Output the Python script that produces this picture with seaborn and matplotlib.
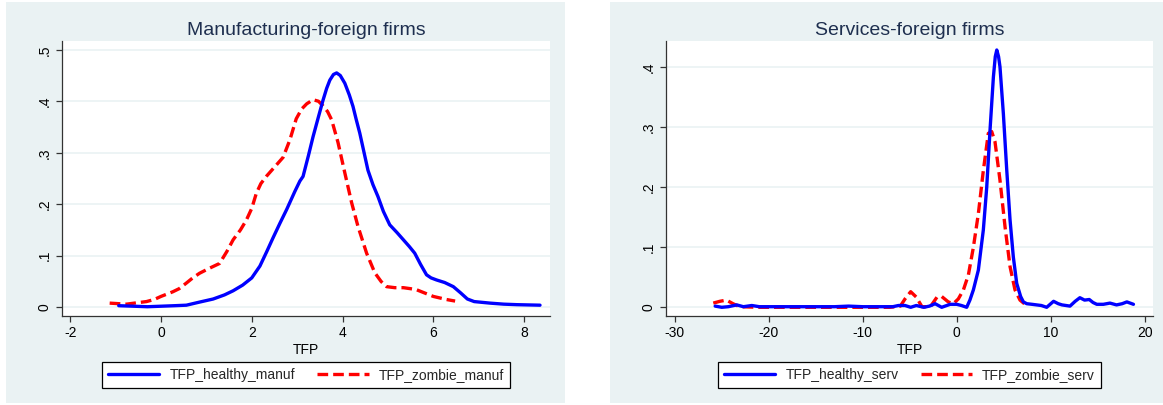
import matplotlib
matplotlib.use("Agg")
import matplotlib.pyplot as plt
from matplotlib.patches import Rectangle
from matplotlib.lines import Line2D
import seaborn as sns

# ---- kernel density estimates of TFP (read as x / density pairs) ----
manuf_healthy_x = [-0.93, -0.6, -0.3, 0.0, 0.3, 0.56, 0.85, 1.15, 1.4, 1.59, 1.8, 2.0, 2.18,
                   2.33, 2.47, 2.62, 2.77, 2.95, 3.06, 3.13, 3.25, 3.35, 3.47, 3.57, 3.65, 3.72,
                   3.80, 3.87, 3.95, 4.05, 4.15, 4.23, 4.30, 4.38, 4.47, 4.56, 4.67, 4.78, 4.90,
                   5.04, 5.20, 5.34, 5.47, 5.59, 5.72, 5.85, 5.95, 6.07, 6.25, 6.44, 6.60, 6.75,
                   6.90, 7.25, 7.55, 7.84, 8.35]
manuf_healthy_y = [0.003, 0.002, 0.001, 0.002, 0.003, 0.004, 0.010, 0.016, 0.024, 0.032, 0.043,
                   0.057, 0.080, 0.108, 0.135, 0.163, 0.190, 0.225, 0.245, 0.254, 0.295, 0.331,
                   0.370, 0.402, 0.425, 0.441, 0.452, 0.455, 0.450, 0.435, 0.412, 0.390, 0.365,
                   0.338, 0.302, 0.266, 0.238, 0.215, 0.186, 0.160, 0.145, 0.131, 0.118, 0.105,
                   0.083, 0.063, 0.057, 0.053, 0.048, 0.040, 0.028, 0.016, 0.011, 0.008, 0.006,
                   0.005, 0.004]

manuf_zombie_x = [-1.13, -0.76, -0.5, -0.32, -0.15, 0.0, 0.26, 0.40, 0.56, 0.70, 0.85, 1.05,
                  1.29, 1.45, 1.59, 1.75, 1.88, 2.0, 2.10, 2.2, 2.32, 2.5, 2.69, 2.84, 2.98,
                  3.10, 3.21, 3.35, 3.47, 3.57, 3.67, 3.76, 3.90, 4.05, 4.20, 4.34, 4.53, 4.71,
                  4.85, 4.97, 5.15, 5.34, 5.50, 5.63, 5.80, 6.00, 6.29, 6.48]
manuf_zombie_y = [0.008, 0.006, 0.009, 0.011, 0.015, 0.021, 0.030, 0.036, 0.047, 0.057, 0.066,
                  0.075, 0.085, 0.108, 0.131, 0.150, 0.169, 0.192, 0.221, 0.240, 0.254, 0.272,
                  0.291, 0.325, 0.366, 0.385, 0.395, 0.403, 0.400, 0.391, 0.380, 0.364, 0.320,
                  0.261, 0.203, 0.157, 0.105, 0.067, 0.050, 0.040, 0.038, 0.038, 0.036, 0.034,
                  0.028, 0.021, 0.015, 0.012]

serv_healthy_x = [-25.7, -25.0, -24.3, -23.4, -22.7, -21.8, -21.0, -19.0, -17.0, -15.0, -13.0,
                  -11.5, -10.0, -8.0, -6.8, -6.2, -5.5, -4.9, -4.3, -3.5, -2.9, -2.3, -1.6,
                  -0.7, 0.0, 0.5, 1.06, 1.4, 1.77, 2.3, 2.83, 3.19, 3.54, 3.90, 4.10, 4.26,
                  4.45, 4.60, 4.96, 5.32, 5.67, 6.02, 6.38, 6.8, 7.09, 7.45, 8.0, 8.5, 9.0,
                  9.57, 10.3, 10.8, 11.2, 12.05, 12.6, 13.1, 13.6, 14.1, 14.5, 14.9, 15.6,
                  16.3, 17.0, 17.6, 18.1, 18.8]
serv_healthy_y = [0.002, 0.000, 0.001, 0.004, 0.001, 0.003, 0.001, 0.001, 0.001, 0.001, 0.001,
                  0.002, 0.001, 0.001, 0.001, 0.003, 0.003, 0.000, 0.003, 0.000, 0.002, 0.006,
                  0.000, 0.005, 0.005, 0.003, 0.000, 0.012, 0.029, 0.062, 0.129, 0.200, 0.295,
                  0.384, 0.418, 0.429, 0.418, 0.401, 0.323, 0.229, 0.146, 0.084, 0.040, 0.018,
                  0.009, 0.006, 0.005, 0.004, 0.003, 0.000, 0.010, 0.006, 0.004, 0.002, 0.010,
                  0.016, 0.012, 0.013, 0.008, 0.005, 0.005, 0.007, 0.004, 0.006, 0.009, 0.005]

serv_zombie_x = [-25.9, -25.2, -24.5, -23.8, -23.1, -21.0, -18.0, -15.0, -12.0, -9.0, -7.1,
                 -6.0, -5.5, -4.9, -4.3, -3.7, -2.8, -2.1, -1.6, -0.9, -0.36, 0.17, 0.71,
                 1.24, 1.77, 2.3, 2.83, 3.36, 3.72, 4.07, 4.6, 5.14, 5.67, 6.2, 6.73, 7.27]
serv_zombie_y = [0.007, 0.010, 0.012, 0.006, 0.001, 0.000, 0.000, 0.000, 0.000, 0.000, 0.000,
                 0.002, 0.014, 0.026, 0.017, 0.001, 0.001, 0.017, 0.018, 0.009, 0.006, 0.014,
                 0.029, 0.054, 0.100, 0.156, 0.228, 0.290, 0.293, 0.276, 0.212, 0.134, 0.068,
                 0.029, 0.012, 0.005]

# ---- axis ticks and labels ----
titles = ["Manufacturing-foreign firms", "Services-foreign firms"]
legend_labels = [["TFP_healthy_manuf", "TFP_zombie_manuf"],
                 ["TFP_healthy_serv", "TFP_zombie_serv"]]
manuf_xticks = [-2, 0, 2, 4, 6, 8]
serv_xticks = [-30, -20, -10, 0, 10, 20]
manuf_yticks = [0, 0.1, 0.2, 0.3, 0.4, 0.5]
manuf_yticklabels = ["0", ".1", ".2", ".3", ".4", ".5"]
serv_yticks = [0, 0.1, 0.2, 0.3, 0.4]
serv_yticklabels = ["0", ".1", ".2", ".3", ".4"]
xlabel = "TFP"

sns.set_theme(style="white")
plt.rcParams["font.family"] = ["Liberation Sans", "DejaVu Sans"]
plt.rcParams["axes.unicode_minus"] = False

BG = "#EAF2F3"
TITLE_C = "#1E2F4F"
BLUE = "#0000FF"
RED = "#FF0000"
LW = 2.4
DASH = (0, (3.2, 1.5))

W, H = 1163, 405
fig = plt.figure(figsize=(W / 100, H / 100), dpi=100)
fig.patch.set_facecolor("white")

# graph-region backgrounds for each panel
for x0, x1 in [(6, 565), (610, 1163)]:
    fig.patches.append(Rectangle((x0 / W, 2 / H), (x1 - x0) / W, 401 / H,
                                 transform=fig.transFigure, facecolor=BG,
                                 edgecolor="none", zorder=-5))

ax1 = fig.add_axes([62 / W, (H - 316) / H, 488 / W, 275 / H])
ax2 = fig.add_axes([666 / W, (H - 316) / H, 487 / W, 275 / H])

panels = [
    (ax1, manuf_healthy_x, manuf_healthy_y, manuf_zombie_x, manuf_zombie_y,
     manuf_xticks, manuf_yticks, manuf_yticklabels, (-2.18, 8.57), (-0.017, 0.517)),
    (ax2, serv_healthy_x, serv_healthy_y, serv_zombie_x, serv_zombie_y,
     serv_xticks, serv_yticks, serv_yticklabels, (-30.93, 20.88), (-0.0145, 0.444)),
]

for i, (ax, hx, hy, zx, zy, xt, yt, ytl, xl, yl) in enumerate(panels):
    ax.set_facecolor("white")
    ax.set_axisbelow(True)
    for y in yt:
        ax.axhline(y, color=BG, linewidth=1.2, zorder=0)

    sns.lineplot(x=hx, y=hy, ax=ax, color=BLUE, linewidth=LW, solid_capstyle="round",
                 solid_joinstyle="round", zorder=3)
    sns.lineplot(x=zx, y=zy, ax=ax, color=RED, linewidth=LW, linestyle=DASH,
                 dash_capstyle="butt", zorder=2)

    ax.set_xlim(*xl)
    ax.set_ylim(*yl)
    ax.set_xticks(xt)
    ax.set_xticklabels([str(v) for v in xt])
    ax.set_yticks(yt)
    ax.set_yticklabels(ytl, rotation=90, va="center")
    ax.tick_params(axis="both", direction="out", length=4, width=0.9, color="#333333",
                   labelsize=10, labelcolor="black", pad=3.5)
    ax.tick_params(left=True, bottom=True)

    for side in ["top", "right"]:
        ax.spines[side].set_visible(False)
    for side in ["left", "bottom"]:
        ax.spines[side].set_color("#333333")
        ax.spines[side].set_linewidth(0.9)

    ax.set_xlabel(xlabel, fontsize=10, color="black", labelpad=2)
    ax.set_ylabel("")
    ax.set_title(titles[i], fontsize=14, color=TITLE_C, pad=4.3)

    handles = [Line2D([], [], color=BLUE, linewidth=LW),
               Line2D([], [], color=RED, linewidth=LW, linestyle=DASH)]
    leg = ax.legend(handles, legend_labels[i], loc="center", bbox_to_anchor=(0.5, -0.2145),
                    ncol=2, fontsize=10, frameon=True, fancybox=False, framealpha=1,
                    edgecolor="black", handlelength=3.7, handletextpad=0.72,
                    columnspacing=1.6, borderpad=0.4, borderaxespad=0)
    leg.get_frame().set_linewidth(0.9)

fig.savefig("out.png", dpi=100, facecolor="white")
